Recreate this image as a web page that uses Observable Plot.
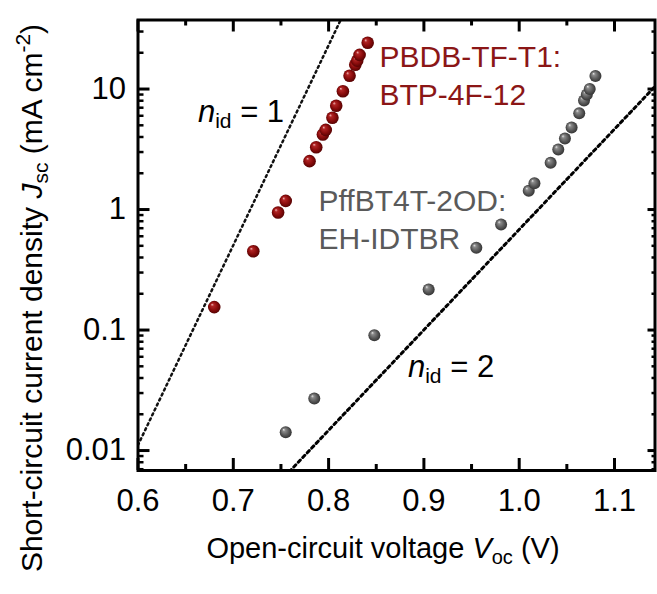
<!DOCTYPE html>
<html><head><meta charset="utf-8">
<script src="https://cdn.jsdelivr.net/npm/d3@7"></script>
<script src="https://cdn.jsdelivr.net/npm/@observablehq/plot@0.6"></script>
<style>
body{margin:0;background:#fff;}
svg{font-family:"Liberation Sans",Arial,sans-serif;}
</style>
</head><body><div id="chart"></div>
<script>
// PBDB-TF-T1:BTP-4F-12
const redVoc = [0.680, 0.721, 0.747, 0.755, 0.780, 0.787, 0.794, 0.797, 0.804, 0.808, 0.815, 0.822, 0.828, 0.830, 0.8325, 0.841];
const redJsc = [0.155, 0.451, 0.944, 1.18, 2.52, 3.29, 4.19, 4.58, 5.77, 7.26, 9.59, 12.9, 15.9, 17.2, 19.2, 24.2];
// PffBT4T-2OD:EH-IDTBR
const greyVoc = [0.755, 0.785, 0.848, 0.905, 0.955, 0.981, 1.010, 1.016, 1.033, 1.041, 1.048, 1.055, 1.063, 1.068, 1.071, 1.074, 1.080];
const greyJsc = [0.0142, 0.0270, 0.0905, 0.217, 0.481, 0.751, 1.43, 1.65, 2.44, 3.15, 3.88, 4.79, 6.29, 8.03, 9.00, 10.0, 12.8];
// ideality reference lines (end points)
const n1Voc = [0.60, 0.83];
const n1Jsc = [0.0111, 72.6];
const n2Voc = [0.74, 1.16];
const n2Jsc = [0.00466, 14.7];
// ticks
const xTicks = [0.6, 0.7, 0.8, 0.9, 1.0, 1.1];
const xMinor = [0.65, 0.75, 0.85, 0.95, 1.05];
const yTicks = [0.01, 0.1, 1, 10];
const yMinor = [0.007, 0.008, 0.009, 0.02, 0.03, 0.04, 0.05, 0.06, 0.07, 0.08, 0.09,
  0.2, 0.3, 0.4, 0.5, 0.6, 0.7, 0.8, 0.9, 2, 3, 4, 5, 6, 7, 8, 9, 20, 30];
const redLabel = ["PBDB-TF-T1:", "BTP-4F-12"];
const greyLabel = ["PffBT4T-2OD:", "EH-IDTBR"];

const red = redVoc.map((v, i) => ({v, j: redJsc[i]}));
const grey = greyVoc.map((v, i) => ({v, j: greyJsc[i]}));
const n1 = n1Voc.map((v, i) => ({v, j: n1Jsc[i]}));
const n2 = n2Voc.map((v, i) => ({v, j: n2Jsc[i]}));

const W = 657, H = 594;
const mL = 137.5, mR = 2.5, mT = 19.5, mB = 124;
const FW = W - mL - mR, FH = H - mT - mB;
const redColor = "#8b1616", greyColor = "#5a5a5a";

const chart = Plot.plot({
  width: W, height: H,
  marginLeft: mL, marginRight: mR, marginTop: mT, marginBottom: mB,
  style: {fontFamily: '"Liberation Sans",Arial,sans-serif', fontSize: "31px", color: "black", background: "white", overflow: "visible"},
  x: {domain: [0.6, 1.1425]},
  y: {type: "log", domain: [0.00683, 37.4]},
  marks: [
    Plot.line(n1, {x: "v", y: "j", stroke: "#111", strokeWidth: 2.5, strokeDasharray: "2 3.5", clip: true}),
    Plot.line(n2, {x: "v", y: "j", stroke: "#000", strokeWidth: 3, strokeDasharray: "3 3.5", clip: true}),
    // ticks (inward)
    Plot.ruleY(yTicks, {insetRight: FW - 12, strokeWidth: 3}),
    Plot.ruleY(yMinor, {insetRight: FW - 6, strokeWidth: 2.5}),
    Plot.ruleY(yTicks, {insetLeft: FW - 7, strokeWidth: 3}),
    Plot.ruleY(yMinor, {insetLeft: FW - 3, strokeWidth: 2.5}),
    Plot.ruleX(xTicks, {insetTop: FH - 12, strokeWidth: 3}),
    Plot.ruleX(xMinor, {insetTop: FH - 6, strokeWidth: 3}),
    Plot.ruleX(xTicks, {insetBottom: FH - 12, strokeWidth: 3}),
    Plot.ruleX(xMinor, {insetBottom: FH - 6, strokeWidth: 3}),
    Plot.frame({stroke: "black", strokeWidth: 3}),
    Plot.axisX({ticks: xTicks, tickSize: 0, tickPadding: 18, tickFormat: d3.format(".1f"), fontSize: 31, label: null}),
    Plot.axisY({ticks: yTicks, tickSize: 0, tickPadding: 12, tickFormat: d => String(d), fontSize: 31, label: null}),
    Plot.dot(red, {x: "v", y: "j", r: 6.3, fill: "url(#gRed)", stroke: "none"}),
    Plot.dot(grey, {x: "v", y: "j", r: 6, fill: "url(#gGrey)", stroke: "none"}),
    Plot.text([redLabel.join("\n")], {x: 0.8534, y: 7.36, text: d => d, textAnchor: "start", lineAnchor: "bottom", lineHeight: 38 / 30, fontSize: 30, fill: redColor}),
    Plot.text([greyLabel.join("\n")], {x: 0.7894, y: 0.466, text: d => d, textAnchor: "start", lineAnchor: "bottom", lineHeight: 38 / 30, fontSize: 30, fill: greyColor})
  ]
});

const svg = d3.select(chart);
const defs = svg.insert("defs", ":first-child");
function grad(id, stops) {
  const g = defs.append("radialGradient").attr("id", id)
    .attr("cx", "50%").attr("cy", "50%").attr("r", "55%").attr("fx", "32%").attr("fy", "28%");
  stops.forEach(([o, c]) => g.append("stop").attr("offset", o).attr("stop-color", c));
}
grad("gRed", [["0%", "#f2c0c0"], ["22%", "#b02424"], ["60%", "#8a0c0c"], ["100%", "#4c0000"]]);
grad("gGrey", [["0%", "#e8e8e8"], ["22%", "#8a8a8a"], ["60%", "#5a5a5a"], ["100%", "#2c2c2c"]]);

const sx = chart.scale("x"), sy = chart.scale("y");
const ff = '"Liberation Sans",Arial,sans-serif';

// ideality factor labels
function nidLabel(v, j, num) {
  const t = svg.append("text").attr("x", sx.apply(v)).attr("y", sy.apply(j))
    .attr("text-anchor", "start")
    .attr("font-family", ff).attr("font-size", 31).attr("fill", "black");
  t.append("tspan").attr("font-style", "italic").text("n");
  t.append("tspan").attr("font-size", 21).attr("dy", 6).text("id");
  t.append("tspan").attr("dy", -6).text(" = " + num);
}
nidLabel(0.6634, 5.27, "1");
nidLabel(0.8838, 0.0404, "2");

// axis titles
const xt = svg.append("text").attr("x", 383).attr("y", 558)
  .attr("text-anchor", "middle").attr("font-family", ff).attr("font-size", 29).attr("fill", "black");
xt.append("tspan").text("Open-circuit voltage ");
xt.append("tspan").attr("font-style", "italic").text("V");
xt.append("tspan").attr("font-size", 20).attr("dy", 6).text("oc");
xt.append("tspan").attr("dy", -6).text(" (V)");

const yt = svg.append("text").attr("transform", "translate(42,298) rotate(-90)")
  .attr("text-anchor", "middle").attr("font-family", ff).attr("font-size", 30).attr("fill", "black");
yt.append("tspan").text("Short-circuit current density ");
yt.append("tspan").attr("font-style", "italic").text("J");
yt.append("tspan").attr("font-size", 21).attr("dy", 6).text("sc");
yt.append("tspan").attr("dy", -6).text(" (mA cm");
yt.append("tspan").attr("font-size", 21).attr("dy", -12).text("-2");
yt.append("tspan").attr("dy", 12).text(")");

document.getElementById("chart").appendChild(chart);
</script>
</body></html>
